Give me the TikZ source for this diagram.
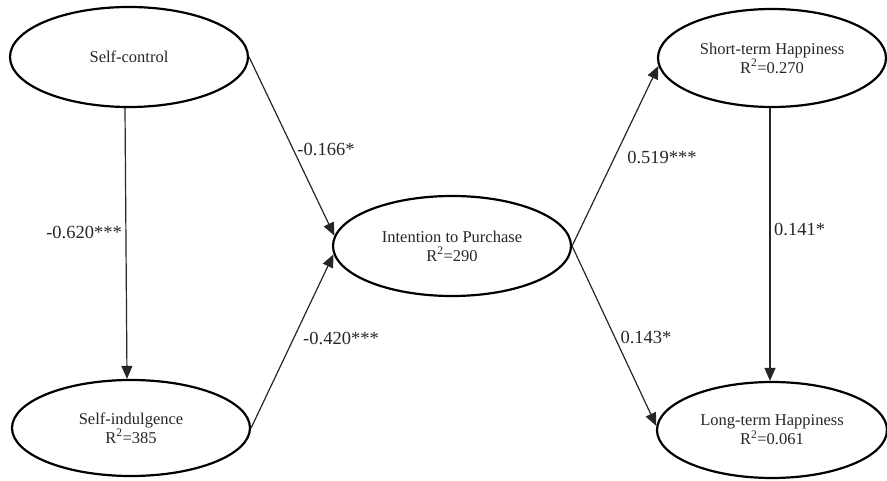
\documentclass[tikz,border=0pt]{standalone}
\usepackage{fontspec}
\setmainfont{Liberation Serif}
\usetikzlibrary{shapes.geometric,arrows.meta}

\tikzset{
  construct/.style={ellipse, draw=black, line width=2.2pt, inner sep=0pt,
    minimum width=238pt, minimum height=100pt, align=center,
    font=\fontsize{16.5}{19}\selectfont, text=black!85},
  path/.style={line width=1.2pt, draw=black!85,
    -{Triangle[length=13pt,width=11pt]}},
  coef/.style={font=\fontsize{18.5}{20}\selectfont, text=black!85, inner sep=1pt}
}

\begin{document}
\begin{tikzpicture}[x=1pt,y=-1pt]
\useasboundingbox (0,0) rectangle (887,481);

% latent constructs
\node[construct] (sc) at (129,57) {Self-control};
\node[construct, minimum height=96pt] (si) at (131,428) {Self-indulgence\\R\textsuperscript{2}=385};
\node[construct] (ip) at (452,246) {Intention to Purchase\\R\textsuperscript{2}=290};
\node[construct, minimum width=228pt, minimum height=98pt] (sh) at (772,58) {Short-term Happiness\\R\textsuperscript{2}=0.270};
\node[construct, minimum width=230pt, minimum height=96pt] (lh) at (772,430) {Long-term Happiness\\R\textsuperscript{2}=0.061};

% structural paths
\draw[path] ([xshift=-4pt]sc.south) -- ([xshift=-4pt]si.north);
\draw[path] (sc.east) -- (ip.175);
\draw[path] (si.east) -- (ip.184);
\draw[path] (ip.east) -- (sh.184);
\draw[path] (ip.east) -- (lh.178);
\draw[path] ([xshift=-2pt]sh.south) -- ([xshift=-2pt]lh.north);

% path coefficients
\node[coef, anchor=east] (c1) at (123,232) {-0.620***};
\node[coef] (c2) at (326,149) {-0.166*};
\node[coef] (c3) at (341,338) {-0.420***};
\node[coef] (c4) at (662,157) {0.519***};
\node[coef] (c5) at (646,337) {0.143*};
\node[coef, anchor=west] (c6) at (773,229) {0.141*};
\end{tikzpicture}
\end{document}
